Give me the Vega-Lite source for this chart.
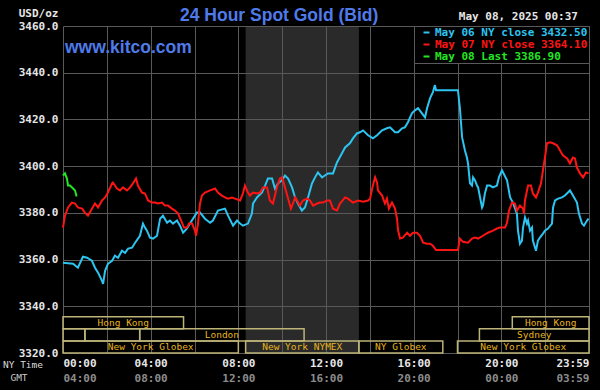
{
  "$schema": "https://vega.github.io/schema/vega-lite/v6.json",
  "width": 526,
  "height": 327,
  "autosize": {"type": "none"},
  "padding": {"left": 63, "top": 26, "right": 11, "bottom": 37},
  "background": "#000000",
  "config": {
    "view": {"stroke": null},
    "axis": {"domain": false, "ticks": false, "tickSize": 0, "gridColor": "#5a5a5a", "gridWidth": 1, "gridOpacity": 1, "labelFont": "DejaVu Sans Mono", "labelFontSize": 11, "labelFontWeight": "bold", "labelColor": "#e6e6e6", "titleFont": "DejaVu Sans Mono", "titleFontWeight": "normal", "titleFontSize": 9.5, "titleColor": "#dcdcdc"}
  },
  "datasets": {
    "prices": [
      {"s":"May 06 NY close 3432.50","h":0,"v":3358.6},{"s":"May 06 NY close 3432.50","h":0.46,"v":3358.2},{"s":"May 06 NY close 3432.50","h":0.68,"v":3356.5},{"s":"May 06 NY close 3432.50","h":0.91,"v":3361.2},{"s":"May 06 NY close 3432.50","h":1.10,"v":3360.8},{"s":"May 06 NY close 3432.50","h":1.32,"v":3359.5},{"s":"May 06 NY close 3432.50","h":1.46,"v":3356.5},{"s":"May 06 NY close 3432.50","h":1.60,"v":3354.4},{"s":"May 06 NY close 3432.50","h":1.78,"v":3350.9},{"s":"May 06 NY close 3432.50","h":1.83,"v":3349.6},{"s":"May 06 NY close 3432.50","h":1.92,"v":3355.2},{"s":"May 06 NY close 3432.50","h":2.05,"v":3358.2},{"s":"May 06 NY close 3432.50","h":2.24,"v":3359.5},{"s":"May 06 NY close 3432.50","h":2.37,"v":3361.7},{"s":"May 06 NY close 3432.50","h":2.51,"v":3360.8},{"s":"May 06 NY close 3432.50","h":2.69,"v":3363.8},{"s":"May 06 NY close 3432.50","h":2.83,"v":3362.9},{"s":"May 06 NY close 3432.50","h":2.97,"v":3364.7},{"s":"May 06 NY close 3432.50","h":3.15,"v":3365.1},{"s":"May 06 NY close 3432.50","h":3.29,"v":3367.2},{"s":"May 06 NY close 3432.50","h":3.51,"v":3370.2},{"s":"May 06 NY close 3432.50","h":3.65,"v":3375.4},{"s":"May 06 NY close 3432.50","h":3.74,"v":3373.7},{"s":"May 06 NY close 3432.50","h":3.83,"v":3372.4},{"s":"May 06 NY close 3432.50","h":3.97,"v":3369.4},{"s":"May 06 NY close 3432.50","h":4.11,"v":3369.0},{"s":"May 06 NY close 3432.50","h":4.29,"v":3370.2},{"s":"May 06 NY close 3432.50","h":4.43,"v":3377.5},{"s":"May 06 NY close 3432.50","h":4.56,"v":3378.8},{"s":"May 06 NY close 3432.50","h":4.75,"v":3375.8},{"s":"May 06 NY close 3432.50","h":4.88,"v":3376.7},{"s":"May 06 NY close 3432.50","h":5.02,"v":3375.4},{"s":"May 06 NY close 3432.50","h":5.20,"v":3376.7},{"s":"May 06 NY close 3432.50","h":5.34,"v":3374.5},{"s":"May 06 NY close 3432.50","h":5.48,"v":3371.5},{"s":"May 06 NY close 3432.50","h":5.66,"v":3373.3},{"s":"May 06 NY close 3432.50","h":5.79,"v":3375.4},{"s":"May 06 NY close 3432.50","h":5.93,"v":3377.5},{"s":"May 06 NY close 3432.50","h":6.11,"v":3380.1},{"s":"May 06 NY close 3432.50","h":6.25,"v":3380.1},{"s":"May 06 NY close 3432.50","h":6.48,"v":3377.5},{"s":"May 06 NY close 3432.50","h":6.71,"v":3375.8},{"s":"May 06 NY close 3432.50","h":6.84,"v":3376.7},{"s":"May 06 NY close 3432.50","h":7.07,"v":3381.0},{"s":"May 06 NY close 3432.50","h":7.39,"v":3381.8},{"s":"May 06 NY close 3432.50","h":7.53,"v":3378.8},{"s":"May 06 NY close 3432.50","h":7.76,"v":3374.5},{"s":"May 06 NY close 3432.50","h":7.94,"v":3376.7},{"s":"May 06 NY close 3432.50","h":8.08,"v":3375.4},{"s":"May 06 NY close 3432.50","h":8.21,"v":3374.5},{"s":"May 06 NY close 3432.50","h":8.44,"v":3375.4},{"s":"May 06 NY close 3432.50","h":8.62,"v":3379.7},{"s":"May 06 NY close 3432.50","h":8.67,"v":3384.0},{"s":"May 06 NY close 3432.50","h":8.85,"v":3386.6},{"s":"May 06 NY close 3432.50","h":9.08,"v":3388.7},{"s":"May 06 NY close 3432.50","h":9.22,"v":3391.7},{"s":"May 06 NY close 3432.50","h":9.35,"v":3394.7},{"s":"May 06 NY close 3432.50","h":9.54,"v":3394.7},{"s":"May 06 NY close 3432.50","h":9.67,"v":3390.4},{"s":"May 06 NY close 3432.50","h":9.81,"v":3392.6},{"s":"May 06 NY close 3432.50","h":9.99,"v":3393.9},{"s":"May 06 NY close 3432.50","h":10.13,"v":3396.0},{"s":"May 06 NY close 3432.50","h":10.27,"v":3394.7},{"s":"May 06 NY close 3432.50","h":10.45,"v":3390.9},{"s":"May 06 NY close 3432.50","h":10.59,"v":3386.6},{"s":"May 06 NY close 3432.50","h":10.72,"v":3384.0},{"s":"May 06 NY close 3432.50","h":10.90,"v":3381.0},{"s":"May 06 NY close 3432.50","h":11.04,"v":3382.3},{"s":"May 06 NY close 3432.50","h":11.18,"v":3386.6},{"s":"May 06 NY close 3432.50","h":11.36,"v":3392.6},{"s":"May 06 NY close 3432.50","h":11.50,"v":3395.2},{"s":"May 06 NY close 3432.50","h":11.63,"v":3397.3},{"s":"May 06 NY close 3432.50","h":11.82,"v":3395.2},{"s":"May 06 NY close 3432.50","h":11.95,"v":3396.0},{"s":"May 06 NY close 3432.50","h":12.09,"v":3396.9},{"s":"May 06 NY close 3432.50","h":12.32,"v":3396.9},{"s":"May 06 NY close 3432.50","h":12.50,"v":3401.6},{"s":"May 06 NY close 3432.50","h":12.73,"v":3405.5},{"s":"May 06 NY close 3432.50","h":12.87,"v":3408.0},{"s":"May 06 NY close 3432.50","h":13.09,"v":3409.8},{"s":"May 06 NY close 3432.50","h":13.23,"v":3411.9},{"s":"May 06 NY close 3432.50","h":13.41,"v":3414.0},{"s":"May 06 NY close 3432.50","h":13.55,"v":3414.5},{"s":"May 06 NY close 3432.50","h":13.69,"v":3415.3},{"s":"May 06 NY close 3432.50","h":13.92,"v":3413.2},{"s":"May 06 NY close 3432.50","h":14.14,"v":3411.9},{"s":"May 06 NY close 3432.50","h":14.33,"v":3413.2},{"s":"May 06 NY close 3432.50","h":14.56,"v":3415.3},{"s":"May 06 NY close 3432.50","h":14.78,"v":3416.2},{"s":"May 06 NY close 3432.50","h":14.92,"v":3416.6},{"s":"May 06 NY close 3432.50","h":15.15,"v":3414.5},{"s":"May 06 NY close 3432.50","h":15.29,"v":3414.5},{"s":"May 06 NY close 3432.50","h":15.47,"v":3416.2},{"s":"May 06 NY close 3432.50","h":15.60,"v":3416.6},{"s":"May 06 NY close 3432.50","h":15.74,"v":3418.8},{"s":"May 06 NY close 3432.50","h":15.92,"v":3422.6},{"s":"May 06 NY close 3432.50","h":16.06,"v":3423.9},{"s":"May 06 NY close 3432.50","h":16.20,"v":3424.8},{"s":"May 06 NY close 3432.50","h":16.38,"v":3422.6},{"s":"May 06 NY close 3432.50","h":16.52,"v":3420.9},{"s":"May 06 NY close 3432.50","h":16.61,"v":3424.8},{"s":"May 06 NY close 3432.50","h":16.75,"v":3429.1},{"s":"May 06 NY close 3432.50","h":16.88,"v":3431.7},{"s":"May 06 NY close 3432.50","h":16.97,"v":3434.7},{"s":"May 06 NY close 3432.50","h":17.02,"v":3432.5},{"s":"May 06 NY close 3432.50","h":18.02,"v":3432.5},{"s":"May 06 NY close 3432.50","h":18.11,"v":3424.8},{"s":"May 06 NY close 3432.50","h":18.21,"v":3412.3},{"s":"May 06 NY close 3432.50","h":18.34,"v":3406.7},{"s":"May 06 NY close 3432.50","h":18.43,"v":3403.7},{"s":"May 06 NY close 3432.50","h":18.48,"v":3401.2},{"s":"May 06 NY close 3432.50","h":18.57,"v":3392.6},{"s":"May 06 NY close 3432.50","h":18.66,"v":3391.7},{"s":"May 06 NY close 3432.50","h":18.71,"v":3395.2},{"s":"May 06 NY close 3432.50","h":18.80,"v":3393.9},{"s":"May 06 NY close 3432.50","h":18.89,"v":3391.7},{"s":"May 06 NY close 3432.50","h":18.94,"v":3390.9},{"s":"May 06 NY close 3432.50","h":19.03,"v":3386.6},{"s":"May 06 NY close 3432.50","h":19.12,"v":3382.3},{"s":"May 06 NY close 3432.50","h":19.16,"v":3383.1},{"s":"May 06 NY close 3432.50","h":19.25,"v":3388.3},{"s":"May 06 NY close 3432.50","h":19.35,"v":3391.7},{"s":"May 06 NY close 3432.50","h":19.48,"v":3391.7},{"s":"May 06 NY close 3432.50","h":19.62,"v":3390.9},{"s":"May 06 NY close 3432.50","h":19.80,"v":3391.7},{"s":"May 06 NY close 3432.50","h":19.89,"v":3395.2},{"s":"May 06 NY close 3432.50","h":20.03,"v":3398.2},{"s":"May 06 NY close 3432.50","h":20.08,"v":3397.3},{"s":"May 06 NY close 3432.50","h":20.26,"v":3393.9},{"s":"May 06 NY close 3432.50","h":20.40,"v":3386.6},{"s":"May 06 NY close 3432.50","h":20.53,"v":3384.4},{"s":"May 06 NY close 3432.50","h":20.71,"v":3379.7},{"s":"May 06 NY close 3432.50","h":20.76,"v":3372.4},{"s":"May 06 NY close 3432.50","h":20.85,"v":3366.8},{"s":"May 06 NY close 3432.50","h":20.94,"v":3368.1},{"s":"May 06 NY close 3432.50","h":20.99,"v":3373.7},{"s":"May 06 NY close 3432.50","h":21.08,"v":3378.0},{"s":"May 06 NY close 3432.50","h":21.17,"v":3375.4},{"s":"May 06 NY close 3432.50","h":21.22,"v":3376.7},{"s":"May 06 NY close 3432.50","h":21.31,"v":3372.4},{"s":"May 06 NY close 3432.50","h":21.40,"v":3373.7},{"s":"May 06 NY close 3432.50","h":21.44,"v":3368.1},{"s":"May 06 NY close 3432.50","h":21.58,"v":3363.8},{"s":"May 06 NY close 3432.50","h":21.67,"v":3368.1},{"s":"May 06 NY close 3432.50","h":21.76,"v":3369.4},{"s":"May 06 NY close 3432.50","h":21.90,"v":3371.1},{"s":"May 06 NY close 3432.50","h":21.99,"v":3372.4},{"s":"May 06 NY close 3432.50","h":22.13,"v":3373.3},{"s":"May 06 NY close 3432.50","h":22.31,"v":3375.4},{"s":"May 06 NY close 3432.50","h":22.36,"v":3382.3},{"s":"May 06 NY close 3432.50","h":22.45,"v":3385.3},{"s":"May 06 NY close 3432.50","h":22.59,"v":3386.1},{"s":"May 06 NY close 3432.50","h":22.77,"v":3386.6},{"s":"May 06 NY close 3432.50","h":22.90,"v":3387.4},{"s":"May 06 NY close 3432.50","h":23.04,"v":3388.7},{"s":"May 06 NY close 3432.50","h":23.13,"v":3389.6},{"s":"May 06 NY close 3432.50","h":23.27,"v":3387.4},{"s":"May 06 NY close 3432.50","h":23.45,"v":3384.4},{"s":"May 06 NY close 3432.50","h":23.54,"v":3379.7},{"s":"May 06 NY close 3432.50","h":23.68,"v":3375.4},{"s":"May 06 NY close 3432.50","h":23.77,"v":3374.5},{"s":"May 06 NY close 3432.50","h":23.91,"v":3376.7},{"s":"May 06 NY close 3432.50","h":23.98,"v":3377.5},
      {"s":"May 07 NY close 3364.10","h":0,"v":3373.7},{"s":"May 07 NY close 3364.10","h":0.09,"v":3378.8},{"s":"May 07 NY close 3364.10","h":0.23,"v":3382.3},{"s":"May 07 NY close 3364.10","h":0.41,"v":3384.4},{"s":"May 07 NY close 3364.10","h":0.55,"v":3384.0},{"s":"May 07 NY close 3364.10","h":0.68,"v":3382.3},{"s":"May 07 NY close 3364.10","h":0.87,"v":3381.8},{"s":"May 07 NY close 3364.10","h":1.00,"v":3380.1},{"s":"May 07 NY close 3364.10","h":1.14,"v":3378.8},{"s":"May 07 NY close 3364.10","h":1.32,"v":3381.8},{"s":"May 07 NY close 3364.10","h":1.46,"v":3384.0},{"s":"May 07 NY close 3364.10","h":1.60,"v":3382.3},{"s":"May 07 NY close 3364.10","h":1.78,"v":3385.3},{"s":"May 07 NY close 3364.10","h":1.92,"v":3386.6},{"s":"May 07 NY close 3364.10","h":2.05,"v":3388.7},{"s":"May 07 NY close 3364.10","h":2.24,"v":3392.6},{"s":"May 07 NY close 3364.10","h":2.28,"v":3393.0},{"s":"May 07 NY close 3364.10","h":2.46,"v":3390.4},{"s":"May 07 NY close 3364.10","h":2.60,"v":3389.6},{"s":"May 07 NY close 3364.10","h":2.74,"v":3390.9},{"s":"May 07 NY close 3364.10","h":2.92,"v":3389.6},{"s":"May 07 NY close 3364.10","h":3.06,"v":3390.9},{"s":"May 07 NY close 3364.10","h":3.19,"v":3392.6},{"s":"May 07 NY close 3364.10","h":3.33,"v":3394.7},{"s":"May 07 NY close 3364.10","h":3.42,"v":3391.7},{"s":"May 07 NY close 3364.10","h":3.60,"v":3388.7},{"s":"May 07 NY close 3364.10","h":3.74,"v":3388.3},{"s":"May 07 NY close 3364.10","h":3.88,"v":3385.3},{"s":"May 07 NY close 3364.10","h":4.06,"v":3384.4},{"s":"May 07 NY close 3364.10","h":4.20,"v":3384.4},{"s":"May 07 NY close 3364.10","h":4.33,"v":3384.0},{"s":"May 07 NY close 3364.10","h":4.52,"v":3384.4},{"s":"May 07 NY close 3364.10","h":4.65,"v":3383.1},{"s":"May 07 NY close 3364.10","h":4.79,"v":3383.1},{"s":"May 07 NY close 3364.10","h":4.97,"v":3381.8},{"s":"May 07 NY close 3364.10","h":5.11,"v":3381.0},{"s":"May 07 NY close 3364.10","h":5.25,"v":3379.7},{"s":"May 07 NY close 3364.10","h":5.43,"v":3375.8},{"s":"May 07 NY close 3364.10","h":5.52,"v":3373.7},{"s":"May 07 NY close 3364.10","h":5.66,"v":3373.7},{"s":"May 07 NY close 3364.10","h":5.75,"v":3375.4},{"s":"May 07 NY close 3364.10","h":5.89,"v":3375.4},{"s":"May 07 NY close 3364.10","h":6.02,"v":3372.4},{"s":"May 07 NY close 3364.10","h":6.07,"v":3370.2},{"s":"May 07 NY close 3364.10","h":6.16,"v":3375.4},{"s":"May 07 NY close 3364.10","h":6.25,"v":3384.0},{"s":"May 07 NY close 3364.10","h":6.34,"v":3387.4},{"s":"May 07 NY close 3364.10","h":6.48,"v":3388.7},{"s":"May 07 NY close 3364.10","h":6.71,"v":3389.6},{"s":"May 07 NY close 3364.10","h":6.94,"v":3390.4},{"s":"May 07 NY close 3364.10","h":7.07,"v":3388.7},{"s":"May 07 NY close 3364.10","h":7.25,"v":3387.4},{"s":"May 07 NY close 3364.10","h":7.39,"v":3386.6},{"s":"May 07 NY close 3364.10","h":7.53,"v":3386.1},{"s":"May 07 NY close 3364.10","h":7.71,"v":3386.6},{"s":"May 07 NY close 3364.10","h":7.85,"v":3386.1},{"s":"May 07 NY close 3364.10","h":8.08,"v":3385.3},{"s":"May 07 NY close 3364.10","h":8.21,"v":3388.3},{"s":"May 07 NY close 3364.10","h":8.30,"v":3391.7},{"s":"May 07 NY close 3364.10","h":8.44,"v":3388.7},{"s":"May 07 NY close 3364.10","h":8.53,"v":3387.4},{"s":"May 07 NY close 3364.10","h":8.67,"v":3388.7},{"s":"May 07 NY close 3364.10","h":8.85,"v":3388.3},{"s":"May 07 NY close 3364.10","h":8.99,"v":3388.7},{"s":"May 07 NY close 3364.10","h":9.13,"v":3390.9},{"s":"May 07 NY close 3364.10","h":9.31,"v":3390.9},{"s":"May 07 NY close 3364.10","h":9.44,"v":3385.3},{"s":"May 07 NY close 3364.10","h":9.58,"v":3384.0},{"s":"May 07 NY close 3364.10","h":9.76,"v":3390.9},{"s":"May 07 NY close 3364.10","h":9.90,"v":3394.7},{"s":"May 07 NY close 3364.10","h":9.99,"v":3395.2},{"s":"May 07 NY close 3364.10","h":10.08,"v":3392.6},{"s":"May 07 NY close 3364.10","h":10.27,"v":3386.1},{"s":"May 07 NY close 3364.10","h":10.40,"v":3381.8},{"s":"May 07 NY close 3364.10","h":10.49,"v":3384.0},{"s":"May 07 NY close 3364.10","h":10.59,"v":3386.6},{"s":"May 07 NY close 3364.10","h":10.68,"v":3385.3},{"s":"May 07 NY close 3364.10","h":10.81,"v":3383.1},{"s":"May 07 NY close 3364.10","h":10.95,"v":3385.3},{"s":"May 07 NY close 3364.10","h":11.13,"v":3386.1},{"s":"May 07 NY close 3364.10","h":11.27,"v":3385.3},{"s":"May 07 NY close 3364.10","h":11.41,"v":3383.1},{"s":"May 07 NY close 3364.10","h":11.59,"v":3384.0},{"s":"May 07 NY close 3364.10","h":11.73,"v":3384.4},{"s":"May 07 NY close 3364.10","h":11.86,"v":3384.4},{"s":"May 07 NY close 3364.10","h":12.05,"v":3385.3},{"s":"May 07 NY close 3364.10","h":12.18,"v":3385.3},{"s":"May 07 NY close 3364.10","h":12.32,"v":3381.8},{"s":"May 07 NY close 3364.10","h":12.50,"v":3381.0},{"s":"May 07 NY close 3364.10","h":12.64,"v":3384.0},{"s":"May 07 NY close 3364.10","h":12.87,"v":3386.6},{"s":"May 07 NY close 3364.10","h":13.00,"v":3386.1},{"s":"May 07 NY close 3364.10","h":13.23,"v":3384.4},{"s":"May 07 NY close 3364.10","h":13.46,"v":3385.3},{"s":"May 07 NY close 3364.10","h":13.69,"v":3384.8},{"s":"May 07 NY close 3364.10","h":13.92,"v":3385.3},{"s":"May 07 NY close 3364.10","h":14.01,"v":3386.1},{"s":"May 07 NY close 3364.10","h":14.14,"v":3391.7},{"s":"May 07 NY close 3364.10","h":14.24,"v":3395.2},{"s":"May 07 NY close 3364.10","h":14.33,"v":3393.0},{"s":"May 07 NY close 3364.10","h":14.37,"v":3389.6},{"s":"May 07 NY close 3364.10","h":14.56,"v":3387.4},{"s":"May 07 NY close 3364.10","h":14.69,"v":3384.0},{"s":"May 07 NY close 3364.10","h":14.78,"v":3386.1},{"s":"May 07 NY close 3364.10","h":14.87,"v":3381.8},{"s":"May 07 NY close 3364.10","h":15.01,"v":3384.4},{"s":"May 07 NY close 3364.10","h":15.15,"v":3381.8},{"s":"May 07 NY close 3364.10","h":15.24,"v":3377.5},{"s":"May 07 NY close 3364.10","h":15.29,"v":3372.4},{"s":"May 07 NY close 3364.10","h":15.38,"v":3369.0},{"s":"May 07 NY close 3364.10","h":15.51,"v":3369.4},{"s":"May 07 NY close 3364.10","h":15.70,"v":3371.5},{"s":"May 07 NY close 3364.10","h":15.83,"v":3370.2},{"s":"May 07 NY close 3364.10","h":15.97,"v":3371.5},{"s":"May 07 NY close 3364.10","h":16.15,"v":3371.5},{"s":"May 07 NY close 3364.10","h":16.29,"v":3370.2},{"s":"May 07 NY close 3364.10","h":16.43,"v":3367.2},{"s":"May 07 NY close 3364.10","h":16.61,"v":3366.8},{"s":"May 07 NY close 3364.10","h":16.75,"v":3366.8},{"s":"May 07 NY close 3364.10","h":16.88,"v":3365.9},{"s":"May 07 NY close 3364.10","h":17.02,"v":3364.1},{"s":"May 07 NY close 3364.10","h":18.02,"v":3364.1},{"s":"May 07 NY close 3364.10","h":18.11,"v":3369.0},{"s":"May 07 NY close 3364.10","h":18.25,"v":3367.6},{"s":"May 07 NY close 3364.10","h":18.48,"v":3367.2},{"s":"May 07 NY close 3364.10","h":18.66,"v":3369.0},{"s":"May 07 NY close 3364.10","h":18.80,"v":3369.4},{"s":"May 07 NY close 3364.10","h":18.94,"v":3369.0},{"s":"May 07 NY close 3364.10","h":19.16,"v":3370.2},{"s":"May 07 NY close 3364.10","h":19.39,"v":3371.5},{"s":"May 07 NY close 3364.10","h":19.62,"v":3372.4},{"s":"May 07 NY close 3364.10","h":19.80,"v":3373.3},{"s":"May 07 NY close 3364.10","h":19.94,"v":3373.7},{"s":"May 07 NY close 3364.10","h":20.17,"v":3373.7},{"s":"May 07 NY close 3364.10","h":20.26,"v":3375.8},{"s":"May 07 NY close 3364.10","h":20.35,"v":3381.0},{"s":"May 07 NY close 3364.10","h":20.49,"v":3384.4},{"s":"May 07 NY close 3364.10","h":20.62,"v":3384.0},{"s":"May 07 NY close 3364.10","h":20.71,"v":3381.0},{"s":"May 07 NY close 3364.10","h":20.85,"v":3383.1},{"s":"May 07 NY close 3364.10","h":20.99,"v":3381.8},{"s":"May 07 NY close 3364.10","h":21.03,"v":3379.7},{"s":"May 07 NY close 3364.10","h":21.08,"v":3385.3},{"s":"May 07 NY close 3364.10","h":21.17,"v":3389.6},{"s":"May 07 NY close 3364.10","h":21.22,"v":3391.7},{"s":"May 07 NY close 3364.10","h":21.35,"v":3391.7},{"s":"May 07 NY close 3364.10","h":21.44,"v":3388.3},{"s":"May 07 NY close 3364.10","h":21.58,"v":3386.6},{"s":"May 07 NY close 3364.10","h":21.67,"v":3388.7},{"s":"May 07 NY close 3364.10","h":21.81,"v":3392.6},{"s":"May 07 NY close 3364.10","h":21.90,"v":3398.2},{"s":"May 07 NY close 3364.10","h":21.99,"v":3403.7},{"s":"May 07 NY close 3364.10","h":22.08,"v":3409.8},{"s":"May 07 NY close 3364.10","h":22.22,"v":3410.2},{"s":"May 07 NY close 3364.10","h":22.36,"v":3409.8},{"s":"May 07 NY close 3364.10","h":22.54,"v":3408.9},{"s":"May 07 NY close 3364.10","h":22.68,"v":3406.7},{"s":"May 07 NY close 3364.10","h":22.81,"v":3404.6},{"s":"May 07 NY close 3364.10","h":23.00,"v":3403.3},{"s":"May 07 NY close 3364.10","h":23.13,"v":3401.2},{"s":"May 07 NY close 3364.10","h":23.27,"v":3403.7},{"s":"May 07 NY close 3364.10","h":23.36,"v":3403.3},{"s":"May 07 NY close 3364.10","h":23.45,"v":3399.4},{"s":"May 07 NY close 3364.10","h":23.59,"v":3396.9},{"s":"May 07 NY close 3364.10","h":23.73,"v":3395.2},{"s":"May 07 NY close 3364.10","h":23.86,"v":3397.3},{"s":"May 07 NY close 3364.10","h":23.98,"v":3396.9},
      {"s":"May 08 Last 3386.90","h":0,"v":3396.0},{"s":"May 08 Last 3386.90","h":0.09,"v":3396.9},{"s":"May 08 Last 3386.90","h":0.18,"v":3394.7},{"s":"May 08 Last 3386.90","h":0.23,"v":3391.7},{"s":"May 08 Last 3386.90","h":0.32,"v":3391.7},{"s":"May 08 Last 3386.90","h":0.46,"v":3390.4},{"s":"May 08 Last 3386.90","h":0.55,"v":3389.6},{"s":"May 08 Last 3386.90","h":0.62,"v":3387.0}
    ],
    "sessions": [
      {"track":2,"start":0,"end":5.5,"name":"Hong Kong"},
      {"track":2,"start":20.5,"end":24,"name":"Hong Kong"},
      {"track":1,"start":0,"end":1,"name":""},
      {"track":1,"start":1,"end":3.5,"name":""},
      {"track":1,"start":3.5,"end":11,"name":"London"},
      {"track":1,"start":19,"end":24,"name":"Sydney"},
      {"track":0,"start":0,"end":8,"name":"New York Globex"},
      {"track":0,"start":8.333,"end":13.5,"name":"New York NYMEX"},
      {"track":0,"start":13.5,"end":17.33,"name":"NY Globex"},
      {"track":0,"start":18,"end":24,"name":"New York Globex"}
    ]
  },
  "layer": [
    {
      "data": {"values": [{"session": "COMEX", "start": 8.333, "end": 13.5}]},
      "mark": {"type": "rect", "fill": "#5a5a5a", "opacity": 0.47},
      "encoding": {
        "x": {"field": "start", "type": "quantitative", "scale": {"domain": [0, 24], "nice": false, "zero": false},
          "axis": {"orient": "bottom", "offset": 14.5, "values": [0, 4, 8, 12, 16, 20, 24], "grid": false, "labelColor": "#8c8c8c", "labelPadding": 10.5, "labelBaseline": "middle",
            "labelExpr": "datum.value == 24 ? '03:59' : ((datum.value + 4) % 24 < 10 ? '0' : '') + ((datum.value + 4) % 24) + ':00'",
            "encode": {"labels": {"update": {"align": {"signal": "datum.value >= 24 ? 'right' : 'center'"}, "dx": {"signal": "datum.value >= 24 ? 6 : 0"}}}},
            "title": "GMT", "titleX": -44.5, "titleY": 10, "titleAlign": "center", "titleBaseline": "middle", "titleColor": "#c8c8c8"}},
        "x2": {"field": "end"}
      }
    },
    {
      "data": {"name": "sessions"},
      "transform": [{"calculate": "datum.track + 1", "as": "track_top"}],
      "mark": {"type": "rect", "fillOpacity": 0, "stroke": "#bdb478", "strokeWidth": 1.5},
      "encoding": {
        "x": {"field": "start", "type": "quantitative", "scale": {"domain": [0, 24], "nice": false, "zero": false}, "axis": null},
        "x2": {"field": "end"},
        "y": {"field": "track", "type": "quantitative", "scale": {"domain": [0, 27], "nice": false, "zero": false}, "axis": null},
        "y2": {"field": "track_top"}
      }
    },
    {
      "data": {"name": "sessions"},
      "transform": [{"calculate": "(datum.start + datum.end) / 2", "as": "mid"}, {"calculate": "datum.track + 0.5", "as": "track_mid"}],
      "mark": {"type": "text", "font": "DejaVu Sans Mono", "fontSize": 9.5, "color": "#e8b41c", "baseline": "middle", "align": "center"},
      "encoding": {
        "x": {"field": "mid", "type": "quantitative", "scale": {"domain": [0, 24], "nice": false, "zero": false}, "axis": null},
        "y": {"field": "track_mid", "type": "quantitative", "scale": {"domain": [0, 27], "nice": false, "zero": false}, "axis": null},
        "text": {"field": "name"}
      }
    },
    {
      "data": {"name": "prices"},
      "mark": {"type": "line", "strokeWidth": 2},
      "encoding": {
        "x": {"field": "h", "type": "quantitative", "scale": {"domain": [0, 24], "nice": false, "zero": false},
          "axis": {"orient": "bottom", "values": [0, 2, 4, 6, 8, 10, 12, 14, 16, 18, 20, 22, 24], "grid": true, "labelPadding": 10.5, "labelBaseline": "middle",
            "labelExpr": "datum.value % 4 != 0 ? '' : datum.value == 24 ? '23:59' : (datum.value < 10 ? '0' : '') + datum.value + ':00'",
            "encode": {"labels": {"update": {"align": {"signal": "datum.value >= 24 ? 'right' : 'center'"}, "dx": {"signal": "datum.value >= 24 ? 6 : 0"}}}},
            "title": "NY Time", "titleX": -40.5, "titleY": 11.5, "titleAlign": "center", "titleBaseline": "middle"}},
        "y": {"field": "v", "type": "quantitative", "scale": {"domain": [3320, 3460], "nice": false, "zero": false},
          "axis": {"values": [3320, 3340, 3360, 3380, 3400, 3420, 3440, 3460], "format": ".1f", "grid": true, "labelPadding": 5,
            "title": "USD/oz", "titleAngle": 0, "titleX": -5, "titleY": -13, "titleAlign": "right", "titleBaseline": "middle", "titleFontSize": 11, "titleFontWeight": "bold", "titleColor": "#e6e6e6"}},
        "color": {"field": "s", "type": "nominal",
          "scale": {"domain": ["May 06 NY close 3432.50", "May 07 NY close 3364.10", "May 08 Last 3386.90"], "range": ["#2cc4f0", "#ff1414", "#22e622"]},
          "legend": {"title": null, "orient": "top-right", "offset": 0, "padding": 1, "rowPadding": 0, "symbolType": "stroke", "symbolSize": 36, "symbolStrokeWidth": 2, "symbolOffset": 6,
            "labelFont": "DejaVu Sans Mono", "labelFontSize": 11, "labelFontWeight": "bold", "labelOffset": 3, "labelLimit": 400,
            "strokeColor": "#5a5a5a", "fillColor": "#000000", "cornerRadius": 0,
            "encode": {"labels": {"update": {"fill": {"scale": "color", "field": "value"}}}}}}
      }
    },
    {
      "data": {"values": [{"heading": "24 Hour Spot Gold (Bid)"}]},
      "mark": {"type": "text", "align": "left", "baseline": "alphabetic", "dx": 117, "dy": -5, "font": "Liberation Sans", "fontSize": 17.5, "fontWeight": "bold", "color": "#4f7bea"},
      "encoding": {
        "x": {"datum": 0, "type": "quantitative", "scale": {"domain": [0, 24], "nice": false, "zero": false}, "axis": null},
        "y": {"datum": 3460, "type": "quantitative", "scale": {"domain": [3320, 3460], "nice": false, "zero": false}, "axis": null},
        "text": {"field": "heading"}
      }
    },
    {
      "data": {"values": [{"site": "www.kitco.com"}]},
      "mark": {"type": "text", "align": "left", "baseline": "alphabetic", "dx": 2, "dy": 27, "font": "Liberation Sans", "fontSize": 17.5, "fontWeight": "bold", "color": "#4f7bea"},
      "encoding": {
        "x": {"datum": 0, "type": "quantitative", "scale": {"domain": [0, 24], "nice": false, "zero": false}, "axis": null},
        "y": {"datum": 3460, "type": "quantitative", "scale": {"domain": [3320, 3460], "nice": false, "zero": false}, "axis": null},
        "text": {"field": "site"}
      }
    },
    {
      "data": {"values": [{"asof": "May 08, 2025 00:37"}]},
      "mark": {"type": "text", "align": "right", "baseline": "middle", "dx": -11, "dy": -9, "font": "DejaVu Sans Mono", "fontSize": 11, "fontWeight": "bold", "color": "#e6e6e6"},
      "encoding": {
        "x": {"datum": 24, "type": "quantitative", "scale": {"domain": [0, 24], "nice": false, "zero": false}, "axis": null},
        "y": {"datum": 3460, "type": "quantitative", "scale": {"domain": [3320, 3460], "nice": false, "zero": false}, "axis": null},
        "text": {"field": "asof"}
      }
    }
  ],
  "resolve": {"scale": {"y": "independent"}, "axis": {"x": "independent", "y": "independent"}}
}
